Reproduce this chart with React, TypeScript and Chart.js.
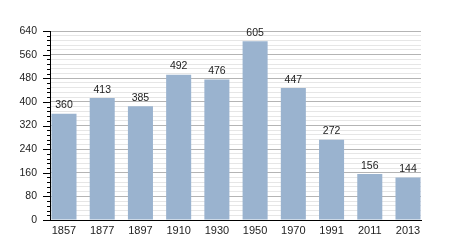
import React, { useEffect, useRef } from "react";
import { Chart, registerables } from "chart.js";

Chart.register(...registerables);

const years = ["1857", "1877", "1897", "1910", "1930", "1950", "1970", "1991", "2011", "2013"];
const population = [360, 413, 385, 492, 476, 605, 447, 272, 156, 144];
const yMax = 640;
const yMajorStep = 80;
const yMinorStep = 16;

const FONT = "'Liberation Sans', Arial, sans-serif";

const valueLabels = {
  id: "valueLabels",
  afterDatasetsDraw(chart: any) {
    const ctx = chart.ctx;
    const meta = chart.getDatasetMeta(0);
    ctx.save();
    ctx.font = `10.5px ${FONT}`;
    ctx.fillStyle = "#222";
    ctx.textAlign = "center";
    ctx.textBaseline = "bottom";
    meta.data.forEach((el: any, i: number) => {
      ctx.fillText(String(population[i]), el.x, el.y - 3);
    });
    ctx.restore();
  },
};

const yTickMarks = {
  id: "yTickMarks",
  afterDraw(chart: any) {
    const ctx = chart.ctx;
    const y = chart.scales.y;
    const left = chart.chartArea.left;
    ctx.save();
    ctx.strokeStyle = "#000";
    ctx.lineWidth = 1;
    for (let v = 0; v <= yMax; v += yMinorStep) {
      const py = Math.round(y.getPixelForValue(v)) + 0.5;
      const len = v % yMajorStep === 0 ? 7 : 3;
      ctx.beginPath();
      ctx.moveTo(left - len, py);
      ctx.lineTo(left, py);
      ctx.stroke();
    }
    ctx.restore();
  },
};

export default function App() {
  const ref = useRef<HTMLCanvasElement | null>(null);
  useEffect(() => {
    document.body.style.margin = "0";
    const canvas = ref.current!;
    const chart = new Chart(canvas, {
      type: "bar",
      data: {
        datasets: [
          {
            data: population.map((v, i) => ({ x: i, y: v })),
            backgroundColor: "#9ab3cf",
            borderWidth: 0,
            barPercentage: 0.655,
            categoryPercentage: 1,
          },
        ],
      },
      options: {
        animation: false,
        responsive: false,
        devicePixelRatio: 1,
        layout: { padding: { top: 31, right: 29, left: 0, bottom: 0 } },
        plugins: { legend: { display: false }, tooltip: { enabled: false } },
        scales: {
          x: {
            type: "linear",
            offset: false,
            min: -0.366,
            max: 9.34,
            grid: { display: false, drawTicks: false, offset: false },
            border: { display: true, color: "#000", width: 1 },
            afterBuildTicks: (scale: any) => {
              scale.ticks = years.map((_, i) => ({ value: i }));
            },
            afterFit: (scale: any) => {
              scale.height = 30;
            },
            ticks: {
              autoSkip: false,
              maxRotation: 0,
              padding: 4,
              color: "#222",
              font: { family: FONT, size: 11 },
              callback: (v: any) => years[v] ?? "",
            },
          },
          y: {
            min: 0,
            max: yMax,
            afterFit: (scale: any) => {
              scale.width = 50;
            },
            grid: {
              drawTicks: false,
              color: (c: any) =>
                c.tick && c.tick.value % yMajorStep === 0 ? "#b4b4b4" : "#e6e6e6",
            },
            border: { display: true, color: "#000", width: 1 },
            ticks: {
              stepSize: yMinorStep,
              autoSkip: false,
              padding: 13,
              color: "#222",
              font: { family: FONT, size: 10.5 },
              callback: (v: any) => (v % yMajorStep === 0 ? String(v) : ""),
            },
          },
        },
      },
      plugins: [valueLabels, yTickMarks],
    });
    return () => chart.destroy();
  }, []);
  return <canvas ref={ref} width={450} height={250} style={{ display: "block" }} />;
}
